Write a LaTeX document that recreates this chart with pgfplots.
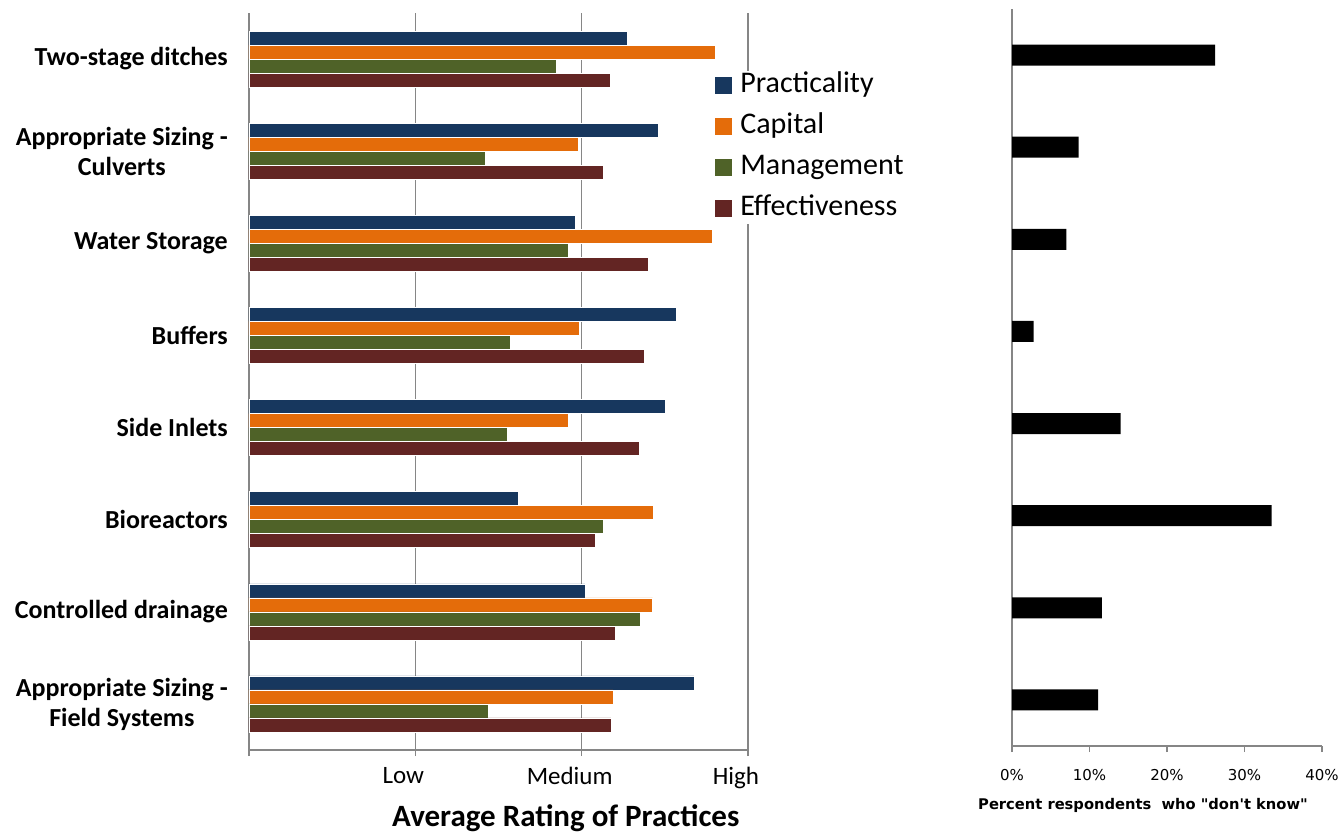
\documentclass[border=0pt]{standalone}
\usepackage{fontspec}
\setmainfont{Carlito}
\newfontfamily\dejavu{DejaVu Sans}
\usepackage{pgfplots}
\usepackage{pgfplotstable}
\pgfplotsset{compat=1.18}

\definecolor{cPrac}{HTML}{17375E}
\definecolor{cCap}{HTML}{E46C0A}
\definecolor{cMan}{HTML}{4F6228}
\definecolor{cEff}{HTML}{632523}
\definecolor{axgray}{HTML}{868686}

% ratings: 0 = axis start, 1 = Low, 2 = Medium, 3 = High
\pgfplotstableread{
idx prac  cap   man   eff   dk
0   2.272 2.803 1.846 2.173 26.2
1   2.459 1.978 1.421 2.129 8.6
2   1.963 2.786 1.922 2.401 7.0
3   2.570 1.984 1.572 2.377 2.8
4   2.500 1.922 1.552 2.345 14.0
5   1.619 2.433 2.129 2.083 33.5
6   2.019 2.427 2.351 2.199 11.6
7   2.675 2.188 1.438 2.176 11.1
}\ratings

\begin{document}
\begin{tikzpicture}[x=1pt,y=1pt]
\path[use as bounding box] (-249,-85) rectangle (1092,750);
\begin{axis}[
    at={(0pt,0pt)}, anchor=south west,
    scale only axis, width=499pt, height=737pt,
    xmin=0, xmax=3, ymin=-0.5, ymax=7.5, y dir=reverse,
    axis x line*=bottom, axis y line*=left,
    axis line style={axgray, line width=1.5pt, -},
    xtick={0,1,2,3}, xticklabels={,Low,Medium,High},
    xmajorgrids, grid style={axgray, line width=1.5pt},
    tick align=outside, major tick length=6pt,
    xtick style={axgray, line width=1.5pt},
    xticklabel style={font=\fontsize{25}{30}\selectfont, xshift=-12pt, yshift=-8pt},
    ytick={0,...,7},
    yticklabels={{Two-stage ditches},{Appropriate Sizing -\\Culverts},{Water Storage},{Buffers},{Side Inlets},{Bioreactors},{Controlled drainage},{Appropriate Sizing -\\Field Systems}},
    ytick style={draw=none},
    yticklabel style={font=\fontsize{26}{30}\selectfont\bfseries, align=center, anchor=east, inner sep=0pt, xshift=-15pt},
    xlabel={Average Rating of Practices},
    xlabel style={font=\fontsize{31}{36}\selectfont\bfseries, at={(axis description cs:0.635,-0.092)}, anchor=center},
    xbar, bar width=14pt,
    legend image code/.code={\path[#1, draw=none] (0pt,-8.5pt) rectangle (17pt,8.5pt);},
    legend style={at={(rel axis cs:0.928,0.922)}, anchor=north west, draw=none, fill=white,
        font=\fontsize{30}{36}\selectfont, row sep=15pt,
        nodes={inner sep=0pt, text height=20pt, text depth=6pt},
        /tikz/every odd column/.append style={column sep=8pt}},
    legend cell align=left,
]
\addplot[fill=cPrac, draw=white, bar shift=21pt] table[x=prac, y=idx] {\ratings};
\addplot[fill=cCap, draw=white, bar shift=7pt] table[x=cap, y=idx] {\ratings};
\addplot[fill=cMan, draw=white, bar shift=-7pt] table[x=man, y=idx] {\ratings};
\addplot[fill=cEff, draw=white, bar shift=-21pt] table[x=eff, y=idx] {\ratings};
\legend{Practicality,Capital,Management,Effectiveness}
\end{axis}

\begin{axis}[
    at={(763pt,4pt)}, anchor=south west,
    scale only axis, width=310pt, height=737pt,
    xmin=0, xmax=40, ymin=-0.5, ymax=7.5, y dir=reverse,
    axis x line*=bottom, axis y line*=left,
    axis line style={axgray, line width=1.5pt, -},
    ytick=\empty,
    xtick={0,10,20,30,40}, xticklabels={0\%,10\%,20\%,30\%,40\%},
    tick align=outside, major tick length=6pt,
    xtick style={axgray, line width=1.5pt},
    xticklabel style={font=\dejavu\fontsize{15}{18}\selectfont, yshift=-14pt},
    xlabel={Percent respondents\ \ who "don't know"},
    xlabel style={font=\dejavu\fontsize{14.7}{17}\selectfont\bfseries, at={(axis description cs:0.4226,-0.080)}, anchor=center},
    xbar, bar width=21pt,
]
\addplot[fill=black, draw=none, bar shift=0pt] table[x=dk, y=idx] {\ratings};
\end{axis}
\end{tikzpicture}
\end{document}
